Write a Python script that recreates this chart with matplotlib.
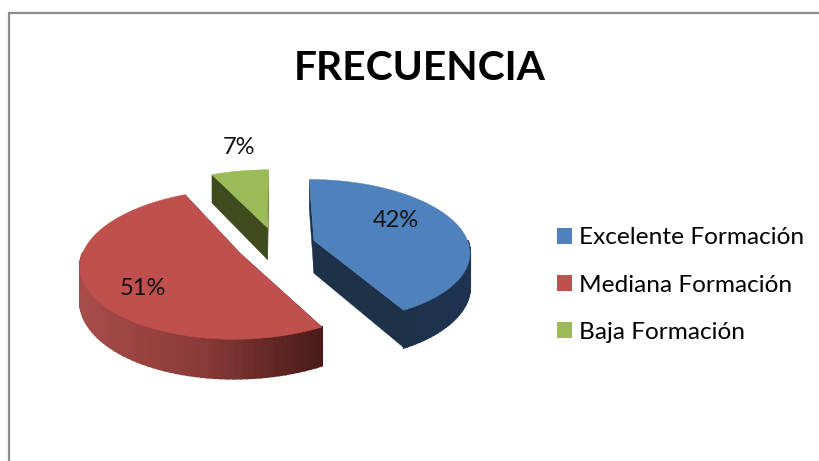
# 3D style pie chart, drawn by hand because matplotlib pie has no depth
import numpy as np
from matplotlib import pyplot as plt
from matplotlib.colors import LinearSegmentedColormap
from matplotlib.patches import Patch, Polygon

categories = ['Excelente Formación', 'Mediana Formación', 'Baja Formación']
values = [42, 51, 7]
pct_labels = ['42%', '51%', '7%']
title = 'FRECUENCIA'

top_colors = ['#4F81BD', '#C0504D', '#9BBB59']
wall_maps = [
    ['#1D3149', '#1D3350'],
    ['#A84C49', '#8A3B38', '#4A1B19'],
    ['#3F4A1E', '#3F4A1E'],
]
radial_colors = ['#1D3149', '#4A1B19', '#3F4A1E']
label_pos = [(396, 220), (143, 288), (239, 147)]

# projection of the pie, in pixels
cx, cy = 276, 245
rx, ry = 155, 71
persp = 0.143
depth = 33
explode = 0.255
start = 0

plt.rcParams['font.family'] = ['Lato', 'DejaVu Sans']

fig = plt.figure(figsize=(8.19, 4.61), dpi=100)
ax = fig.add_axes([0, 0, 1, 1])
ax.set_xlim(0, 819)
ax.set_ylim(461, 0)
ax.axis('off')


def project(ux, uy, z=0):
    w = 1 + persp * uy
    return cx + rx * ux / w, cy - ry * uy / w + depth * z / w


def draw_slice(a0, a1, top_col, wall_cmap, radial_col):
    mid = np.radians((a0 + a1) / 2)
    ox, oy = explode * np.sin(mid), explode * np.cos(mid)
    th = np.radians(np.linspace(a0, a1, 90))
    ux = ox + np.sin(th)
    uy = oy + np.cos(th)

    # radial walls
    for i in [0, -1]:
        px = [ox, ux[i], ux[i], ox]
        py = [oy, uy[i], uy[i], oy]
        pz = [0, 0, 1, 1]
        pts = [project(a, b, c) for a, b, c in zip(px, py, pz)]
        ax.add_patch(Polygon(pts, closed=True, fc=radial_col, ec=radial_col, lw=0.3))

    # outer wall, one small quad per step so the shade can change
    vis = [j for j in range(len(th) - 1) if uy[j] - oy < 0]
    if vis:
        xs = project(ux[vis[0]], uy[vis[0]])[0]
        xe = project(ux[vis[-1]], uy[vis[-1]])[0]
    for j in vis:
        pts = [project(ux[j], uy[j], 0), project(ux[j + 1], uy[j + 1], 0),
               project(ux[j + 1], uy[j + 1], 1), project(ux[j], uy[j], 1)]
        t = (pts[0][0] - min(xs, xe)) / max(abs(xe - xs), 1)
        c = wall_cmap(np.clip(t, 0, 1))
        # thick edge closes the seams between the quads
        ax.add_patch(Polygon(pts, closed=True, fc=c, ec=c, lw=1.5))

    # top face
    pts = [project(ox, oy)] + [project(a, b) for a, b in zip(ux, uy)]
    ax.add_patch(Polygon(pts, closed=True, fc=top_col, ec=top_col, lw=0.3))


angles = start + np.cumsum([0] + values) / np.sum(values) * 360
for i in [1, 2, 0]:
    cmap = LinearSegmentedColormap.from_list('w%d' % i, wall_maps[i])
    draw_slice(angles[i], angles[i + 1], top_colors[i], cmap, radial_colors[i])

for lab, (x, y) in zip(pct_labels, label_pos):
    ax.text(x, y, lab, fontsize=17, ha='center', va='center', color='#111111')

ax.text(420, 68, title, fontsize=29.3, fontweight='bold', ha='center', va='center', color='black')

handles = [Patch(fc=c, ec='none') for c in top_colors]
ax.legend(handles, categories, loc='center left', bbox_to_anchor=(557, 285),
          bbox_transform=ax.transData, frameon=False, fontsize=17.6,
          handlelength=0.62, handleheight=0.62, handletextpad=0.29,
          labelspacing=1.07, borderpad=0, borderaxespad=0)

# chart border, runs off the right and bottom of the picture
ax.plot([9, 9, 819], [461, 13, 13], color='#8C8C8C', lw=1.6, solid_joinstyle='miter')

fig.savefig('out.png', dpi=100)
